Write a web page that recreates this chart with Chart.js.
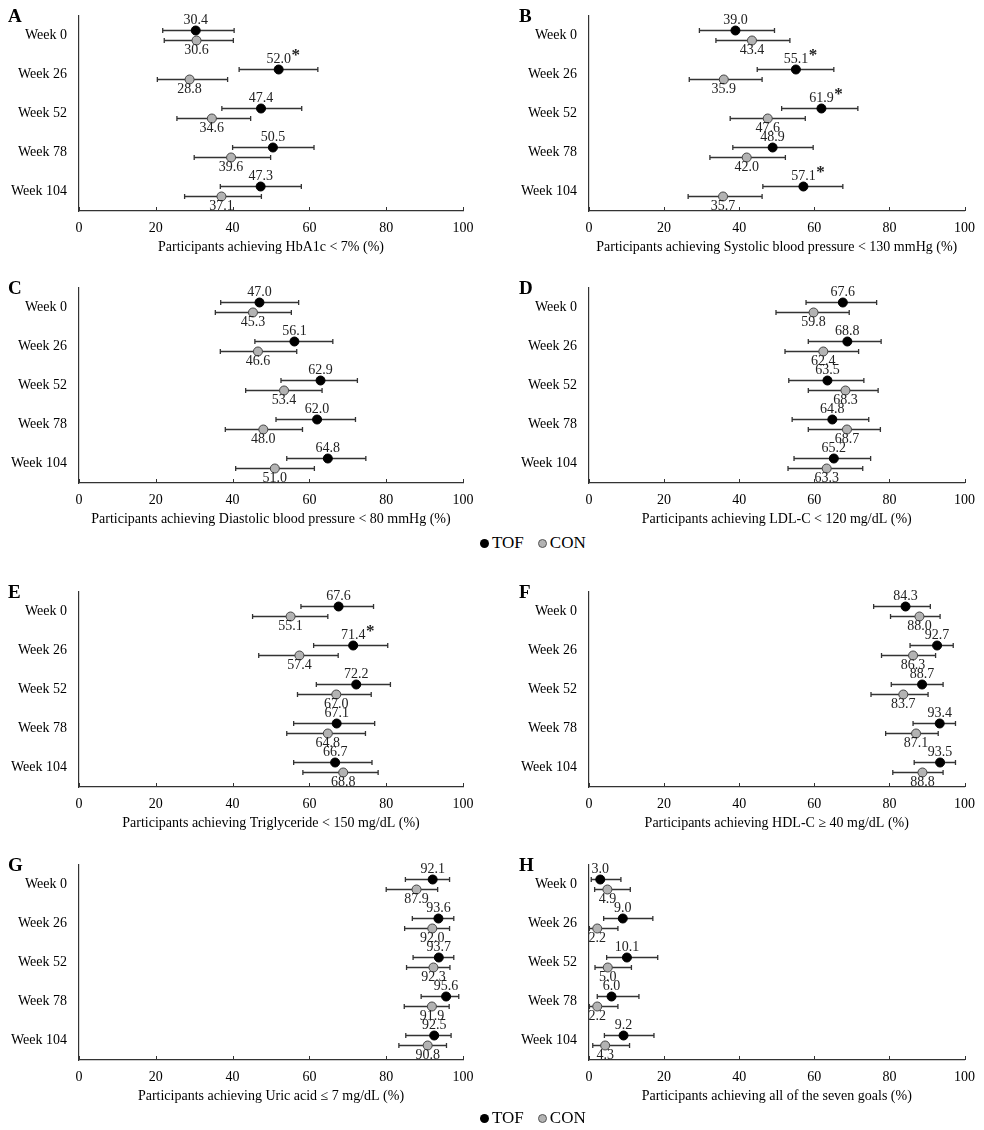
<!DOCTYPE html>
<html>
<head>
<meta charset="utf-8">
<script src="https://cdn.jsdelivr.net/npm/chart.js@4.4.1/dist/chart.umd.min.js"></script>
<style>
  html,body{margin:0;padding:0;background:#fff;}
  #wrap{position:relative;width:984px;height:1130px;background:#fff;overflow:hidden;}
  .cv{position:absolute;}
  .legend{position:absolute;left:480px;font-family:'Liberation Serif','Times New Roman',serif;font-size:17px;color:#000;display:flex;align-items:center;height:20px;}
  .dot{display:inline-block;width:9px;height:9px;border-radius:50%;margin-right:3px;box-sizing:border-box;}
  .dot.tof{background:#000;}
  .dot.con{background:#b3b3b3;border:1px solid #555;margin-left:14px;}
</style>
</head>
<body>
<div id="wrap"></div>
<script>
// ---------- DATA ----------
const categories = ['Week 0', 'Week 26', 'Week 52', 'Week 78', 'Week 104'];
const xTickValues = [0, 20, 40, 60, 80, 100];
const seriesNames = ['TOF', 'CON'];

// A: HbA1c < 7%
const hba1cTof   = [30.4, 52.0, 47.4, 50.5, 47.3];
const hba1cTofLo = [21.8, 41.7, 37.2, 40.0, 36.8];
const hba1cTofHi = [40.4, 62.2, 58.0, 61.2, 57.9];
const hba1cCon   = [30.6, 28.8, 34.6, 39.6, 37.1];
const hba1cConLo = [22.2, 20.4, 25.5, 30.0, 27.5];
const hba1cConHi = [40.2, 38.7, 44.7, 49.9, 47.5];
const hba1cStar  = [false, true, false, false, false];

// B: Systolic BP < 130 mmHg
const sbpTof   = [39.0, 55.1, 61.9, 48.9, 57.1];
const sbpTofLo = [29.4, 44.8, 51.3, 38.3, 46.3];
const sbpTofHi = [49.4, 65.2, 71.6, 59.7, 67.6];
const sbpCon   = [43.4, 35.9, 47.6, 42.0, 35.7];
const sbpConLo = [33.8, 26.7, 37.6, 32.2, 26.4];
const sbpConHi = [53.5, 46.1, 57.6, 52.3, 46.1];
const sbpStar  = [false, true, true, false, true];

// C: Diastolic BP < 80 mmHg
const dbpTof   = [47.0, 56.1, 62.9, 62.0, 64.8];
const dbpTofLo = [36.9, 45.8, 52.6, 51.3, 54.1];
const dbpTofHi = [57.2, 66.1, 72.5, 72.0, 74.7];
const dbpCon   = [45.3, 46.6, 53.4, 48.0, 51.0];
const dbpConLo = [35.5, 36.8, 43.4, 38.1, 40.8];
const dbpConHi = [55.3, 56.7, 63.3, 58.2, 61.3];
const dbpStar  = [false, false, false, false, false];

// D: LDL-C < 120 mg/dL
const ldlTof   = [67.6, 68.8, 63.5, 64.8, 65.2];
const ldlTofLo = [57.8, 58.4, 53.2, 54.1, 54.6];
const ldlTofHi = [76.6, 77.8, 73.2, 74.5, 75.0];
const ldlCon   = [59.8, 62.4, 68.3, 68.7, 63.3];
const ldlConLo = [49.8, 52.2, 58.4, 58.4, 53.0];
const ldlConHi = [69.3, 71.8, 77.0, 77.6, 72.9];
const ldlStar  = [false, false, false, false, false];

// E: Triglyceride < 150 mg/dL
const tgTof   = [67.6, 71.4, 72.2, 67.1, 66.7];
const tgTofLo = [57.8, 61.1, 61.8, 55.9, 55.9];
const tgTofHi = [76.7, 80.4, 81.1, 77.0, 76.3];
const tgCon   = [55.1, 57.4, 67.0, 64.8, 68.8];
const tgConLo = [45.2, 46.8, 56.9, 54.1, 58.3];
const tgConHi = [64.8, 67.5, 76.1, 74.6, 77.9];
const tgStar  = [false, true, false, false, false];

// F: HDL-C >= 40 mg/dL
const hdlTof   = [84.3, 92.7, 88.7, 93.4, 93.5];
const hdlTofLo = [75.8, 85.5, 80.5, 86.3, 86.6];
const hdlTofHi = [90.9, 97.0, 94.3, 97.6, 97.6];
const hdlCon   = [88.0, 86.3, 83.7, 87.1, 88.8];
const hdlConLo = [80.3, 77.9, 75.1, 79.0, 80.9];
const hdlConHi = [93.5, 92.3, 90.3, 93.0, 94.3];
const hdlStar  = [false, false, false, false, false];

// G: Uric acid <= 7 mg/dL
const uaTof   = [92.1, 93.6, 93.7, 95.6, 92.5];
const uaTofLo = [85.0, 86.8, 87.0, 89.1, 85.1];
const uaTofHi = [96.5, 97.6, 97.6, 98.9, 96.9];
const uaCon   = [87.9, 92.0, 92.3, 91.9, 90.8];
const uaConLo = [80.0, 84.8, 85.3, 84.7, 83.3];
const uaConHi = [93.4, 96.5, 96.6, 96.4, 95.7];
const uaStar  = [false, false, false, false, false];

// H: all seven goals
const allTof   = [3.0, 9.0, 10.1, 6.0, 9.2];
const allTofLo = [0.6, 3.9, 4.7, 2.2, 4.1];
const allTofHi = [8.5, 17.0, 18.3, 13.3, 17.3];
const allCon   = [4.9, 2.2, 5.0, 2.2, 4.3];
const allConLo = [1.5, 0.1, 1.6, 0.1, 1.0];
const allConHi = [11.0, 7.7, 11.3, 7.7, 10.8];
const allStar  = [false, false, false, false, false];

// ---------- LAYOUT ----------
const FONT = "'Liberation Serif', 'Times New Roman', serif";
const panels = [
  {letter:'A', title:'Participants achieving HbA1c < 7% (%)', tof:hba1cTof, tofLo:hba1cTofLo, tofHi:hba1cTofHi, con:hba1cCon, conLo:hba1cConLo, conHi:hba1cConHi, star:hba1cStar, col:0, top:0},
  {letter:'B', title:'Participants achieving Systolic blood pressure < 130 mmHg (%)', tof:sbpTof, tofLo:sbpTofLo, tofHi:sbpTofHi, con:sbpCon, conLo:sbpConLo, conHi:sbpConHi, star:sbpStar, col:1, top:0},
  {letter:'C', title:'Participants achieving Diastolic blood pressure < 80 mmHg (%)', tof:dbpTof, tofLo:dbpTofLo, tofHi:dbpTofHi, con:dbpCon, conLo:dbpConLo, conHi:dbpConHi, star:dbpStar, col:0, top:272},
  {letter:'D', title:'Participants achieving LDL-C < 120 mg/dL (%)', tof:ldlTof, tofLo:ldlTofLo, tofHi:ldlTofHi, con:ldlCon, conLo:ldlConLo, conHi:ldlConHi, star:ldlStar, col:1, top:272},
  {letter:'E', title:'Participants achieving Triglyceride < 150 mg/dL (%)', tof:tgTof, tofLo:tgTofLo, tofHi:tgTofHi, con:tgCon, conLo:tgConLo, conHi:tgConHi, star:tgStar, col:0, top:576},
  {letter:'F', title:'Participants achieving HDL-C \u2265 40 mg/dL (%)', tof:hdlTof, tofLo:hdlTofLo, tofHi:hdlTofHi, con:hdlCon, conLo:hdlConLo, conHi:hdlConHi, star:hdlStar, col:1, top:576},
  {letter:'G', title:'Participants achieving Uric acid \u2264 7 mg/dL (%)', tof:uaTof, tofLo:uaTofLo, tofHi:uaTofHi, con:uaCon, conLo:uaConLo, conHi:uaConHi, star:uaStar, col:0, top:849},
  {letter:'H', title:'Participants achieving all of the seven goals (%)', tof:allTof, tofLo:allTofLo, tofHi:allTofHi, con:allCon, conLo:allConLo, conHi:allConHi, star:allStar, col:1, top:849}
];

const OFFSET = 0.128; // vertical offset of the two series within a category (in category units)

const errorBarPlugin = {
  id: 'errorBars',
  beforeDatasetsDraw(chart) {
    const p = chart.options.plugins.errorBars;
    const {ctx, scales:{x, y}} = chart;
    ctx.save();
    ctx.strokeStyle = '#333';
    ctx.lineWidth = 1.3;
    chart.data.datasets.forEach((ds, di) => {
      const lo = di === 0 ? p.tofLo : p.conLo;
      const hi = di === 0 ? p.tofHi : p.conHi;
      ds.data.forEach((pt, i) => {
        const py = y.getPixelForValue(pt.y);
        const x1 = x.getPixelForValue(lo[i]);
        const x2 = x.getPixelForValue(hi[i]);
        ctx.beginPath();
        ctx.moveTo(x1, py); ctx.lineTo(x2, py);
        ctx.moveTo(x1, py - 2.5); ctx.lineTo(x1, py + 2.5);
        ctx.moveTo(x2, py - 2.5); ctx.lineTo(x2, py + 2.5);
        ctx.stroke();
      });
    });
    ctx.restore();
  },
  afterDatasetsDraw(chart) {
    const p = chart.options.plugins.errorBars;
    const {ctx, scales:{x, y}} = chart;
    ctx.save();
    ctx.font = '14px ' + FONT;
    ctx.fillStyle = '#222';
    ctx.textAlign = 'center';
    ctx.textBaseline = 'middle';
    chart.data.datasets.forEach((ds, di) => {
      ds.data.forEach((pt, i) => {
        const px = x.getPixelForValue(pt.x);
        const py = y.getPixelForValue(pt.y);
        const txt = pt.x.toFixed(1);
        if (di === 0) {
          ctx.fillText(txt, px, py - 10);
          if (p.star[i]) {
            const w = ctx.measureText(txt).width;
            ctx.save();
            ctx.font = 'bold 17px ' + FONT;
            ctx.textAlign = 'left';
            ctx.fillText('*', px + w / 2 + 0.5, py - 14);
            ctx.restore();
          }
        } else {
          ctx.fillText(txt, px, py + 10);
        }
      });
    });
    ctx.restore();
  },
  afterDraw(chart) {
    const p = chart.options.plugins.errorBars;
    const {ctx, scales:{x}, chartArea} = chart;
    ctx.save();
    // inside tick marks on x axis
    ctx.strokeStyle = '#333';
    ctx.lineWidth = 1;
    xTickValues.forEach(v => {
      const px = Math.round(x.getPixelForValue(v)) + 0.5;
      ctx.beginPath();
      ctx.moveTo(px, chartArea.bottom);
      ctx.lineTo(px, chartArea.bottom - 4);
      ctx.stroke();
    });
    // panel letter
    ctx.fillStyle = '#000';
    ctx.font = 'bold 19px ' + FONT;
    ctx.textAlign = 'left';
    ctx.textBaseline = 'middle';
    ctx.fillText(p.letter, p.letterX, 17);
    ctx.restore();
  }
};

const wrap = document.getElementById('wrap');
panels.forEach((pn) => {
  const canvas = document.createElement('canvas');
  canvas.className = 'cv';
  canvas.width = 492; canvas.height = 260;
  canvas.style.left = (pn.col * 492) + 'px';
  canvas.style.top = pn.top + 'px';
  canvas.style.width = '492px'; canvas.style.height = '260px';
  wrap.appendChild(canvas);
  const isRight = pn.col === 1;
  const axisFont = {family: FONT, size: 14};
  new Chart(canvas, {
    type: 'scatter',
    data: {
      datasets: [
        {label: seriesNames[0], data: pn.tof.map((v, i) => ({x: v, y: i - OFFSET})),
         pointRadius: 4.5, pointBackgroundColor: '#000', pointBorderColor: '#000', pointBorderWidth: 1},
        {label: seriesNames[1], data: pn.con.map((v, i) => ({x: v, y: i + OFFSET})),
         pointRadius: 4.5, pointBackgroundColor: '#b3b3b3', pointBorderColor: '#444', pointBorderWidth: 1}
      ]
    },
    options: {
      responsive: false,
      animation: false,
      layout: {padding: {top: 16, left: 0, right: isRight ? 12 : 29, bottom: 0}},
      plugins: {
        legend: {display: false},
        tooltip: {enabled: false},
        errorBars: {tofLo: pn.tofLo, tofHi: pn.tofHi, conLo: pn.conLo, conHi: pn.conHi, star: pn.star,
                    letter: pn.letter, letterX: isRight ? 27 : 8}
      },
      scales: {
        x: {
          type: 'linear', min: 0, max: 100,
          afterBuildTicks: (s) => { s.ticks = xTickValues.map(v => ({value: v})); },
          ticks: {font: axisFont, color: '#000', padding: 9, maxRotation: 0},
          grid: {display: false, drawTicks: false, tickLength: 0},
          border: {display: true, color: '#333', width: 1.2},
          title: {display: true, text: pn.title, font: axisFont, color: '#000', padding: {top: 0, bottom: 4}},
          afterFit: (s) => { s.height = 49; }
        },
        y: {
          type: 'linear', min: -0.5, max: 4.5, reverse: true,
          afterBuildTicks: (s) => { s.ticks = categories.map((c, i) => ({value: i})); },
          ticks: {font: axisFont, color: '#000', padding: 12, callback: (v) => categories[v]},
          grid: {display: false, drawTicks: false, tickLength: 0},
          border: {display: true, color: '#333', width: 1.2},
          afterFit: (s) => { s.width = isRight ? 97 : 79; s.paddingTop = 0; s.paddingBottom = 0; }
        }
      }
    },
    plugins: [errorBarPlugin]
  });
});

// legends
[543, 1118].forEach(cy => {
  const lg = document.createElement('div');
  lg.className = 'legend';
  lg.style.top = (cy - 10) + 'px';
  lg.innerHTML = '<span class="dot tof"></span><span>' + seriesNames[0] + '</span>' +
                 '<span class="dot con"></span><span>' + seriesNames[1] + '</span>';
  wrap.appendChild(lg);
});
</script>
</body>
</html>
